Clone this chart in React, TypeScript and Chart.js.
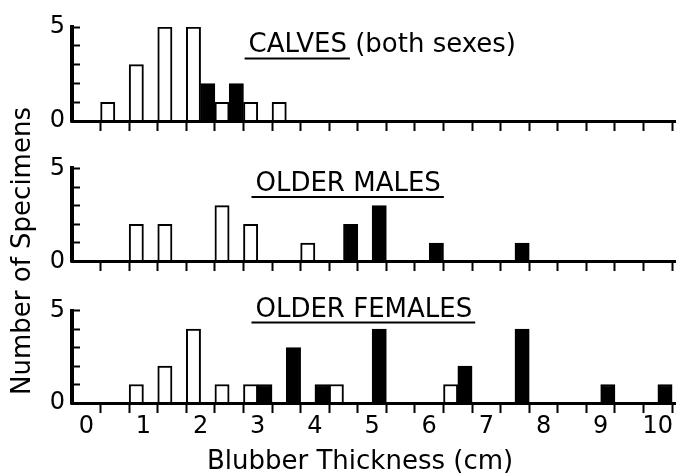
import React, { useEffect, useRef } from 'react';
import { Chart, registerables } from 'chart.js';

Chart.register(...registerables);

// ---------- data (bin lower edges in cm, bin width 0.25 cm) ----------
const BIN_WIDTH = 0.25;

const calvesOpenBins = [0.25, 0.75, 1.25, 1.75, 2.25, 2.75, 3.25];
const calvesOpenCounts = [1, 3, 5, 5, 1, 1, 1];
const calvesFilledBins = [2.0, 2.5];
const calvesFilledCounts = [2, 2];

const malesOpenBins = [0.75, 1.25, 2.25, 2.75, 3.75];
const malesOpenCounts = [2, 2, 3, 2, 1];
const malesFilledBins = [4.5, 5.0, 6.0, 7.5];
const malesFilledCounts = [2, 3, 1, 1];

const femalesOpenBins = [0.75, 1.25, 1.75, 2.25, 2.75, 4.25, 6.25];
const femalesOpenCounts = [1, 2, 4, 1, 1, 1, 1];
const femalesFilledBins = [3.0, 3.5, 4.0, 5.0, 6.5, 7.5, 9.0, 10.0];
const femalesFilledCounts = [1, 3, 1, 4, 2, 4, 1, 1];

// ---------- axes ----------
const xTickMarkValues = [
  0.25, 0.75, 1.25, 1.75, 2.25, 2.75, 3.25, 3.75, 4.25, 4.75, 5.25,
  5.75, 6.25, 6.75, 7.25, 7.75, 8.25, 8.75, 9.25, 9.75, 10.25,
];
const xLabelValues = [0, 1, 2, 3, 4, 5, 6, 7, 8, 9, 10];
const xTickLabels = ['0', '1', '2', '3', '4', '5', '6', '7', '8', '9', '10'];
const yLabelValues = [0, 5];
const yTickLabels = ['0', '5'];

const panelTitles = ['CALVES', 'OLDER MALES', 'OLDER FEMALES'];
const panelSubtitles = ['(both sexes)', '', ''];
const yTitle = 'Number of Specimens';
const xTitle = 'Blubber Thickness (cm)';

const FONT = '"DejaVu Sans", sans-serif';

const panels = [
  {
    x: 'xTop', y: 'yTop', title: panelTitles[0], subtitle: panelSubtitles[0],
    openBins: calvesOpenBins, openCounts: calvesOpenCounts,
    filledBins: calvesFilledBins, filledCounts: calvesFilledCounts,
    titleX: 2.84, titleY: 3.65,
  },
  {
    x: 'xMid', y: 'yMid', title: panelTitles[1], subtitle: panelSubtitles[1],
    openBins: malesOpenBins, openCounts: malesOpenCounts,
    filledBins: malesFilledBins, filledCounts: malesFilledCounts,
    titleX: 2.96, titleY: 3.79,
  },
  {
    x: 'xBot', y: 'yBot', title: panelTitles[2], subtitle: panelSubtitles[2],
    openBins: femalesOpenBins, openCounts: femalesOpenCounts,
    filledBins: femalesFilledBins, filledCounts: femalesFilledCounts,
    titleX: 2.96, titleY: 4.68,
  },
];

const xTickValues = [...xTickMarkValues, ...xLabelValues].sort((a, b) => a - b);

function toPoints(bins: number[], counts: number[]) {
  return bins.map((b, i) => ({ x: b + BIN_WIDTH / 2, y: counts[i] }));
}

function xScale(position: any, showLabels: boolean, tickLength: number, height?: number) {
  return {
    type: 'linear',
    axis: 'x',
    position,
    min: -0.25,
    max: 10.3,
    offset: false,
    afterBuildTicks: (s: any) => {
      s.ticks = xTickValues.map((v) => ({ value: v }));
    },
    afterFit: (s: any) => {
      if (height !== undefined) s.height = height;
    },
    ticks: {
      display: showLabels,
      autoSkip: false,
      maxRotation: 0,
      minRotation: 0,
      padding: 2,
      color: '#000',
      font: { family: FONT, size: 24, lineHeight: 1 },
      callback: (v: number) => {
        const i = xLabelValues.indexOf(v);
        return i >= 0 ? xTickLabels[i] : '';
      },
    },
    grid: {
      display: true,
      offset: false,
      drawOnChartArea: false,
      drawTicks: true,
      tickLength,
      tickWidth: 2,
      tickColor: (c: any) =>
        c.tick && xTickMarkValues.includes(c.tick.value) ? '#000' : 'rgba(0,0,0,0)',
    },
    border: { display: true, color: '#000', width: 3, z: 1 },
  };
}

function yScale(weight: number, stackWeight: number) {
  return {
    type: 'linear',
    axis: 'y',
    position: 'left',
    stack: 'panels',
    stackWeight,
    weight,
    min: 0,
    max: 5,
    afterFit: (s: any) => {
      s.width = 72;
    },
    ticks: {
      stepSize: 1,
      autoSkip: false,
      padding: 15,
      color: '#000',
      font: { family: FONT, size: 24, lineHeight: 1 },
      callback: (v: number) => {
        const i = yLabelValues.indexOf(v);
        return i >= 0 ? yTickLabels[i] : '';
      },
    },
    grid: {
      display: true,
      drawOnChartArea: false,
      drawTicks: true,
      tickLength: -8,
      tickWidth: 2,
      tickColor: '#000',
    },
    border: { display: true, color: '#000', width: 4, z: 1 },
  };
}

function gapScale(weight: number, stackWeight: number) {
  return {
    type: 'linear',
    axis: 'y',
    position: 'left',
    stack: 'panels',
    stackWeight,
    weight,
    min: 0,
    max: 1,
    afterFit: (s: any) => {
      s.width = 72;
    },
    ticks: { display: false },
    grid: { display: false },
    border: { display: false },
  };
}

const textPlugin = {
  id: 'figureText',
  afterDraw(chart: any) {
    const ctx = chart.ctx as CanvasRenderingContext2D;
    ctx.save();
    ctx.fillStyle = '#000';
    ctx.strokeStyle = '#000';
    ctx.font = `26px ${FONT}`;
    ctx.textAlign = 'left';
    ctx.textBaseline = 'alphabetic';
    panels.forEach((p) => {
      const x = chart.scales[p.x].getPixelForValue(p.titleX);
      const y = chart.scales[p.y].getPixelForValue(p.titleY);
      const label = p.subtitle ? `${p.title} ${p.subtitle}` : p.title;
      ctx.fillText(label, x, y);
      const w = ctx.measureText(p.title).width;
      ctx.lineWidth = 2;
      ctx.beginPath();
      ctx.moveTo(x - 4, y + 6);
      ctx.lineTo(x + w + 3, y + 6);
      ctx.stroke();
    });
    // x axis title
    ctx.textAlign = 'center';
    ctx.textBaseline = 'middle';
    ctx.fillText(xTitle, chart.scales.xBot.getPixelForValue(4.79), 462);
    // y axis title (shared by the three panels)
    const ca = chart.chartArea;
    ctx.translate(23, (ca.top + chart.height) / 2);
    ctx.rotate(-Math.PI / 2);
    ctx.fillText(yTitle, 0, 0);
    ctx.restore();
  },
};

export default function App() {
  const ref = useRef<HTMLCanvasElement | null>(null);

  useEffect(() => {
    if (!ref.current) return;
    Chart.defaults.font.family = FONT;
    Chart.defaults.color = '#000';

    const datasets: any[] = [];
    panels.forEach((p) => {
      datasets.push({
        type: 'bar',
        label: `${p.title} open`,
        data: toPoints(p.openBins, p.openCounts),
        xAxisID: p.x,
        yAxisID: p.y,
        backgroundColor: '#fff',
        borderColor: '#000',
        borderWidth: 2,
        grouped: false,
        barPercentage: 1,
        categoryPercentage: 1,
      });
      datasets.push({
        type: 'bar',
        label: `${p.title} filled`,
        data: toPoints(p.filledBins, p.filledCounts),
        xAxisID: p.x,
        yAxisID: p.y,
        backgroundColor: '#000',
        borderColor: '#000',
        borderWidth: 2,
        grouped: false,
        barPercentage: 1,
        categoryPercentage: 1,
      });
    });

    const chart = new Chart(ref.current, {
      type: 'bar',
      data: { datasets },
      options: {
        animation: false,
        responsive: false,
        devicePixelRatio: 1,
        events: [],
        layout: { padding: { top: 20, left: 0, right: 2, bottom: 0 } },
        plugins: {
          legend: { display: false },
          tooltip: { enabled: false },
          title: { display: false },
        },
        scales: {
          yTop: yScale(5, 96),
          yGap1: gapScale(4, 48),
          yMid: yScale(3, 95),
          yGap2: gapScale(2, 50),
          yBot: yScale(1, 94),
          xTop: xScale({ yTop: 0 }, false, 8),
          xMid: xScale({ yMid: 0 }, false, 8),
          xBot: xScale('bottom', true, 10, 72),
        } as any,
      } as any,
      plugins: [textPlugin],
    });
    return () => chart.destroy();
  }, []);

  return (
    <div style={{ position: 'absolute', left: 0, top: 0, width: 677, height: 475, background: '#fff' }}>
      <canvas ref={ref} width={677} height={475} style={{ display: 'block' }} />
    </div>
  );
}
